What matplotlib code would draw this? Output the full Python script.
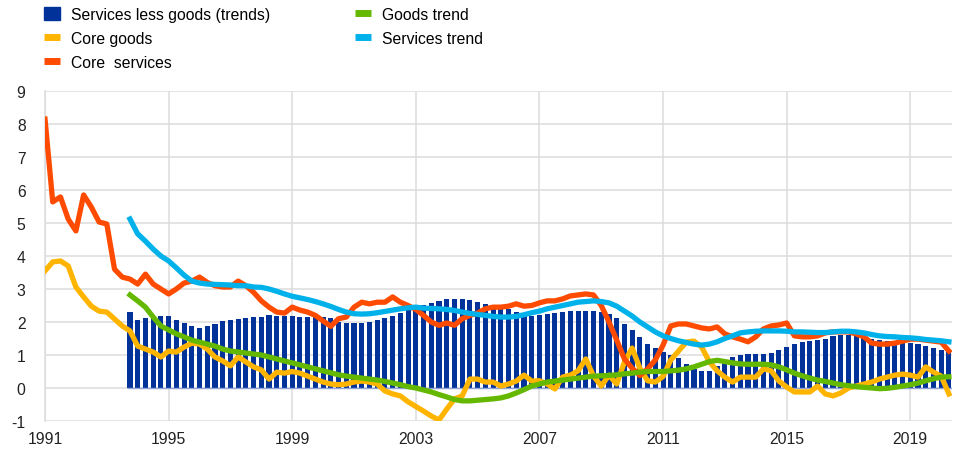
import numpy as np
import matplotlib.pyplot as plt
from matplotlib.patches import Patch
from matplotlib.lines import Line2D

plt.rcParams['font.family'] = ['Liberation Sans', 'DejaVu Sans']
plt.rcParams['axes.unicode_minus'] = False

# quarterly data, 1991Q1 - 2020Q2
core_services = [
    8.15, 5.64, 5.79, 5.12,
    4.76, 5.85, 5.48, 5.03,
    4.97, 3.60, 3.36, 3.30,
    3.15, 3.45, 3.15, 3.00,
    2.85, 3.00, 3.18, 3.24,
    3.36, 3.20, 3.10, 3.06,
    3.06, 3.24, 3.10, 2.90,
    2.64, 2.45, 2.30, 2.27,
    2.45, 2.36, 2.30, 2.20,
    2.03, 1.87, 2.10, 2.15,
    2.45, 2.60, 2.55, 2.60,
    2.60, 2.76, 2.60, 2.50,
    2.38, 2.20, 2.00, 1.90,
    1.97, 1.90, 2.10, 2.20,
    2.27, 2.40, 2.45, 2.45,
    2.48, 2.55, 2.48, 2.50,
    2.58, 2.64, 2.64, 2.70,
    2.79, 2.82, 2.85, 2.82,
    2.50, 2.00, 1.45, 0.88,
    0.60, 0.38, 0.58, 0.85,
    1.30, 1.88, 1.94, 1.94,
    1.88, 1.82, 1.79, 1.85,
    1.64, 1.55, 1.48, 1.40,
    1.55, 1.79, 1.88, 1.91,
    1.97, 1.58, 1.55, 1.55,
    1.58, 1.67, 1.70, 1.70,
    1.70, 1.64, 1.55, 1.36,
    1.33, 1.33, 1.36, 1.42,
    1.48, 1.48, 1.45, 1.42,
    1.39, 1.12,
]
core_goods = [
    3.55, 3.82, 3.85, 3.70,
    3.06, 2.76, 2.48, 2.33,
    2.30, 2.09, 1.88, 1.73,
    1.27, 1.18, 1.09, 0.94,
    1.12, 1.09, 1.24, 1.36,
    1.33, 1.18, 0.94, 0.82,
    0.67, 0.94, 0.79, 0.64,
    0.55, 0.27, 0.48, 0.45,
    0.50, 0.45, 0.36, 0.27,
    0.18, 0.12, 0.10, 0.12,
    0.18, 0.21, 0.18, 0.12,
    -0.09, -0.18, -0.24, -0.42,
    -0.56, -0.70, -0.85, -0.97,
    -0.64, -0.33, -0.24, 0.27,
    0.27, 0.18, 0.18, 0.06,
    0.12, 0.21, 0.39, 0.21,
    0.22, 0.12, -0.03, 0.33,
    0.39, 0.52, 0.88, 0.36,
    0.06, 0.39, 0.12, 0.79,
    1.21, 0.60, 0.22, 0.18,
    0.35, 0.85, 1.12, 1.39,
    1.42, 1.24, 0.79, 0.52,
    0.33, 0.18, 0.33, 0.33,
    0.33, 0.58, 0.52, 0.21,
    0.03, -0.12, -0.12, -0.12,
    0.06, -0.18, -0.24, -0.15,
    0.00, 0.06, 0.12, 0.18,
    0.27, 0.33, 0.39, 0.42,
    0.39, 0.33, 0.64, 0.48,
    0.36, -0.18,
]

# trends, 1993Q4 - 2020Q2
services_trend = [
    5.12,
    4.67, 4.45, 4.21, 4.00,
    3.85, 3.64, 3.42, 3.24,
    3.18, 3.15, 3.14, 3.13,
    3.12, 3.10, 3.10, 3.06,
    3.05, 3.00, 2.93, 2.85,
    2.78, 2.73, 2.68, 2.62,
    2.55, 2.47, 2.38, 2.30,
    2.25, 2.24, 2.25, 2.28,
    2.32, 2.36, 2.40, 2.43,
    2.45, 2.42, 2.41, 2.40,
    2.38, 2.35, 2.30, 2.26,
    2.23, 2.20, 2.17, 2.15,
    2.15, 2.17, 2.22, 2.28,
    2.33, 2.40, 2.45, 2.50,
    2.55, 2.60, 2.62, 2.64,
    2.62, 2.58, 2.48, 2.33,
    2.18, 2.00, 1.85, 1.70,
    1.58, 1.50, 1.43, 1.38,
    1.33, 1.30, 1.33, 1.40,
    1.50, 1.58, 1.67, 1.70,
    1.72, 1.73, 1.73, 1.73,
    1.72, 1.70, 1.70, 1.69,
    1.68, 1.68, 1.70, 1.72,
    1.72, 1.70, 1.67, 1.62,
    1.58, 1.56, 1.55, 1.53,
    1.52, 1.50, 1.47, 1.45,
    1.43, 1.40,
]
goods_trend = [
    2.82,
    2.64, 2.45, 2.15, 1.88,
    1.76, 1.64, 1.55, 1.45,
    1.39, 1.33, 1.27, 1.18,
    1.12, 1.09, 1.06, 1.03,
    1.00, 0.94, 0.88, 0.82,
    0.76, 0.70, 0.64, 0.58,
    0.52, 0.46, 0.40, 0.36,
    0.33, 0.30, 0.27, 0.24,
    0.20, 0.15, 0.10, 0.04,
    0.00, -0.06, -0.12, -0.20,
    -0.27, -0.35, -0.39, -0.39,
    -0.37, -0.35, -0.33, -0.30,
    -0.24, -0.15, -0.05, 0.06,
    0.12, 0.18, 0.21, 0.24,
    0.27, 0.30, 0.33, 0.36,
    0.37, 0.38, 0.40, 0.43,
    0.45, 0.48, 0.50, 0.50,
    0.50, 0.52, 0.54, 0.58,
    0.64, 0.72, 0.80, 0.84,
    0.80, 0.76, 0.73, 0.72,
    0.72, 0.72, 0.70, 0.64,
    0.55, 0.45, 0.37, 0.30,
    0.24, 0.20, 0.15, 0.10,
    0.07, 0.04, 0.02, 0.00,
    -0.02, -0.01, 0.02, 0.06,
    0.10, 0.15, 0.22, 0.28,
    0.33, 0.34,
]
services_less_goods = [
    2.30,
    2.06, 2.12, 2.18, 2.18,
    2.18, 2.06, 1.97, 1.88,
    1.83, 1.88, 1.94, 2.02,
    2.06, 2.09, 2.12, 2.14,
    2.16, 2.20, 2.18, 2.18,
    2.17, 2.15, 2.15, 2.15,
    2.15, 2.12, 2.00, 1.97,
    1.97, 1.97, 2.00, 2.05,
    2.12, 2.18, 2.28, 2.35,
    2.45, 2.52, 2.58, 2.64,
    2.70, 2.70, 2.70, 2.66,
    2.60, 2.55, 2.50, 2.45,
    2.40, 2.30, 2.25, 2.18,
    2.20, 2.24, 2.27, 2.30,
    2.33, 2.33, 2.33, 2.33,
    2.30, 2.24, 2.12, 1.95,
    1.76, 1.55, 1.33, 1.21,
    1.10, 1.00, 0.90, 0.73,
    0.58, 0.52, 0.52, 0.67,
    0.80, 0.94, 1.00, 1.03,
    1.03, 1.03, 1.06, 1.15,
    1.24, 1.33, 1.39, 1.42,
    1.44, 1.50, 1.58, 1.60,
    1.60, 1.58, 1.55, 1.50,
    1.45, 1.42, 1.40, 1.39,
    1.36, 1.33, 1.27, 1.21,
    1.15, 1.12,
]

x_all = 1991 + 0.25 * np.arange(len(core_services))
x_trend = 1993.75 + 0.25 * np.arange(len(services_trend))

year_ticks = [1991, 1995, 1999, 2003, 2007, 2011, 2015, 2019]

c_blue = '#003299'
c_yellow = '#FFB400'
c_red = '#FF4B00'
c_green = '#65B800'
c_cyan = '#00B1EA'

fig = plt.figure(figsize=(9.57, 4.52), dpi=100)
ax = fig.add_axes([45 / 957, 1 - 422 / 452, 907 / 957, 330 / 452])

ax.bar(x_trend, services_less_goods, width=0.165, color=c_blue, zorder=2)
ax.hlines(0, x_trend[0] - 0.1, x_trend[-1] + 0.1, color='#8fa3d6', lw=1.0, zorder=2.5)
ax.plot(x_all, core_goods, color=c_yellow, lw=3.8, zorder=3)
ax.plot(x_all, core_services, color=c_red, lw=3.8, zorder=4)
ax.plot(x_trend, goods_trend, color=c_green, lw=3.8, zorder=5)
ax.plot(x_trend, services_trend, color=c_cyan, lw=3.8, zorder=6)

ax.set_xlim(1991, 2020.35)
ax.set_ylim(-1, 9)
ax.set_yticks(range(-1, 10))
ax.set_xticks(year_ticks)
ax.set_xticklabels([str(y) for y in year_ticks])
ax.grid(True, color='#dcdcdc', lw=1.1, zorder=0)
ax.set_axisbelow(True)
for s in ['top', 'right', 'bottom']:
    ax.spines[s].set_visible(False)
ax.spines['left'].set_color('#dcdcdc')
ax.spines['left'].set_linewidth(1.1)
ax.tick_params(length=0, labelsize=11.3, colors='#222222', pad=7)
ax.tick_params(axis='y', pad=14)

# legend in two blocks
h1 = [Patch(color=c_blue),
      Line2D([], [], color=c_yellow, lw=5, solid_capstyle='butt'),
      Line2D([], [], color=c_red, lw=5, solid_capstyle='butt')]
h2 = [Line2D([], [], color=c_green, lw=5, solid_capstyle='butt'),
      Line2D([], [], color=c_cyan, lw=5, solid_capstyle='butt')]
leg_kw = dict(loc='upper left', frameon=False, fontsize=11.3, handlelength=1.05,
              handleheight=0.9, handletextpad=0.7, labelspacing=0.58,
              borderaxespad=0, borderpad=0)
fig.legend(h1, ['Services less goods (trends)', 'Core goods', 'Core  services'],
           bbox_to_anchor=(44 / 957, 1 - 8 / 452), **leg_kw)
fig.legend(h2, ['Goods trend', 'Services trend'],
           bbox_to_anchor=(355 / 957, 1 - 8 / 452), **leg_kw)

plt.savefig('out.png', dpi=100)
